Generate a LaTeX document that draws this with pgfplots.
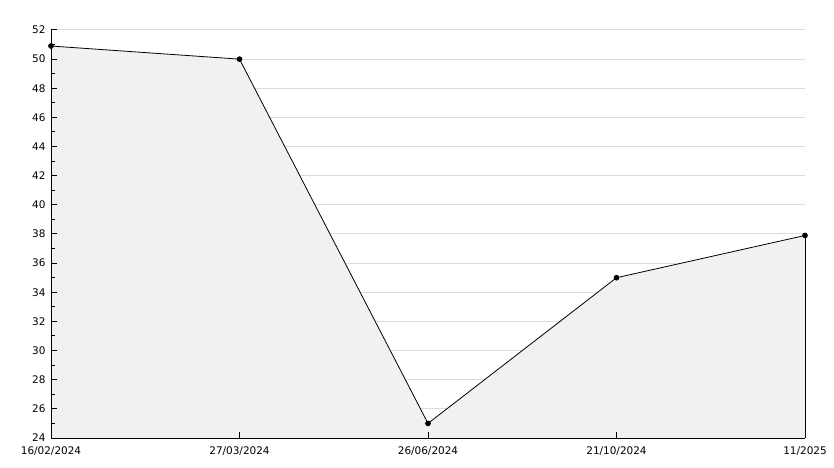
\documentclass[border=0pt]{standalone}
\usepackage{fontspec}
\setmainfont{DejaVu Sans}
\usepackage{pgfplots}
\pgfplotsset{compat=1.18}
\usepgfplotslibrary{fillbetween}
\definecolor{areafill}{HTML}{F1F1F1}
\definecolor{gridgray}{HTML}{DCDCDC}
\pgfplotsset{
  frame/.style={
    at={(0,0)}, anchor=south west,
    scale only axis, width=754bp, height=408bp,
    xmin=0, xmax=4, ymin=24, ymax=52,
  },
}

\begin{document}
\begin{tikzpicture}
% grid only, behind the area
\begin{axis}[
  frame,
  xtick=\empty, ytick={24,26,...,52}, yticklabels={},
  axis line style={draw=none}, tick style={draw=none},
  ymajorgrids, grid style={gridgray, line width=1bp},
]
\end{axis}
\begin{axis}[
  frame,
  axis on top, clip=false,
  xtick={0,1,2,3,4},
  xticklabels={16/02/2024,27/03/2024,26/06/2024,21/10/2024,11/2025},
  ytick={24,26,...,52},
  minor y tick num=1,
  axis lines=left,
  axis line style={-, black, line width=1bp},
  tick align=inside,
  major tick length=6bp, minor tick length=3.5bp,
  tick style={black, line width=1bp},
  ticklabel style={font=\fontsize{10.5}{12}\selectfont},
  /pgf/number format/assume math mode=true,
  xticklabel style={yshift=-5bp},
  yticklabel style={xshift=-2bp},
]
\addplot[draw=none, name path=top] coordinates {
  (0,50.9) (1,50.0) (2,25.0) (3,35.0) (4,37.9)
};
\path[name path=base] (axis cs:0,24) -- (axis cs:4,24);
\addplot[areafill] fill between[of=top and base, on layer=main];
% right edge of the area
\addplot[black, line width=0.8bp] coordinates {(4,24) (4,37.9)};
\addplot[draw=black, line width=0.8bp, mark=*, mark size=2.4bp,
  mark options={fill=black}] coordinates {
  (0,50.9) (1,50.0) (2,25.0) (3,35.0) (4,37.9)
};
\end{axis}
\pgfresetboundingbox
\path[use as bounding box] (-51bp,-30bp) rectangle (783bp,438bp);
\end{tikzpicture}
\end{document}
